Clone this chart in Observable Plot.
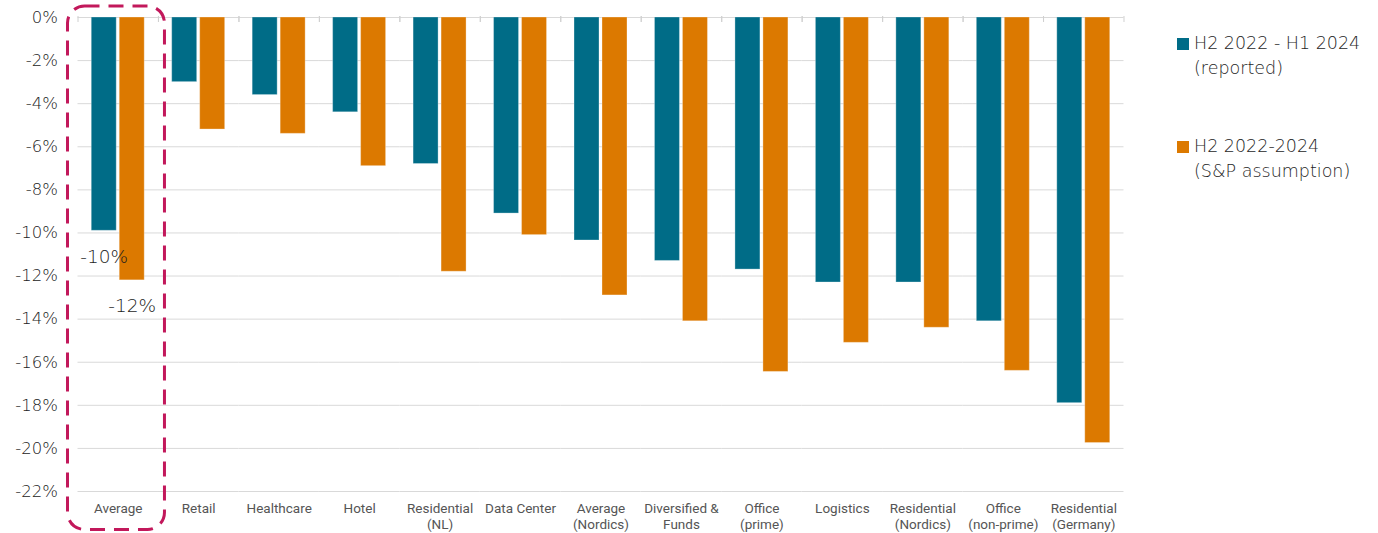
<!DOCTYPE html>
<html>
<head>
<meta charset="utf-8">
<script src="https://cdn.jsdelivr.net/npm/d3@7"></script>
<script src="https://cdn.jsdelivr.net/npm/@observablehq/plot@0.6"></script>
<style>
  html, body { margin: 0; padding: 0; background: #fff; }
  #wrap { position: relative; width: 1378px; height: 533px; }
  #legend { position: absolute; left: 1177px; top: 31px; color: #1e1e1e; font-family: "DejaVu Sans", sans-serif; font-weight: 200; font-size: 17.5px; }
  .item { display: flex; align-items: flex-start; line-height: 25px; }
  .item + .item { margin-top: 53px; }
  .swatch { width: 12px; height: 12px; margin: 7px 5px 0 0; flex: none; }
</style>
</head>
<body>
<div id="wrap">
  <div id="chart"></div>
  <div id="legend"></div>
</div>
<script>
// Property sector value declines, H2 2022 onwards (percent)
const categories = [
  "Average", "Retail", "Healthcare", "Hotel", "Residential\n(NL)", "Data Center",
  "Average\n(Nordics)", "Diversified &\nFunds", "Office\n(prime)", "Logistics",
  "Residential\n(Nordics)", "Office\n(non-prime)", "Residential\n(Germany)"
];
const seriesNames = ["H2 2022 - H1 2024\n(reported)", "H2 2022-2024\n(S&P assumption)"];
const seriesColors = ["#006c87", "#dc7900"];
const reported   = [-9.9, -3.0, -3.6, -4.4, -6.8, -9.1, -10.35, -11.3, -11.7, -12.3, -12.3, -14.1, -17.9];
const assumption = [-12.2, -5.2, -5.4, -6.9, -11.8, -10.1, -12.9, -14.1, -16.45, -15.1, -14.4, -16.4, -19.75];
const yTicks = [0, -2, -4, -6, -8, -10, -12, -14, -16, -18, -20, -22];
const highlighted = "Average";

const rows = categories.flatMap((c, i) => [
  {category: c, series: seriesNames[0], value: reported[i]},
  {category: c, series: seriesNames[1], value: assumption[i]}
]);
const labelled = rows.filter(d => d.category === highlighted);

const numberFont = "'DejaVu Sans', sans-serif";

const chart = Plot.plot({
  width: 1378,
  height: 533,
  marginTop: 17,
  marginBottom: 42,
  marginLeft: 77.5,
  marginRight: 254.5,
  style: {fontFamily: "Roboto, 'Noto Sans', sans-serif", background: "#fff"},
  fx: {domain: categories, padding: 0, round: false, label: null},
  x: {domain: seriesNames, paddingInner: 0.107, paddingOuter: 0.491, round: false, axis: null},
  y: {domain: [-22, 0], label: null},
  color: {domain: seriesNames, range: seriesColors},
  marks: [
    Plot.gridY(yTicks, {stroke: "#d9d9d9", strokeOpacity: 1, strokeWidth: 1}),
    // short separators between categories along the zero line
    Plot.frame({anchor: "left", stroke: "#d0d0d0", strokeOpacity: 1, insetBottom: 470, insetTop: -1}),
    Plot.frame({anchor: "right", stroke: "#d0d0d0", strokeOpacity: 1, insetBottom: 470, insetTop: -1}),
    Plot.barY(rows, {
      fx: "category", x: "series", y: "value", fill: "series",
      stroke: "#fff", strokeOpacity: 0.3, strokeWidth: 1
    }),
    Plot.text(labelled, {
      fx: "category", x: "series", y: "value",
      text: d => `${Math.round(d.value)}%`,
      dy: 26, fontSize: 18.5, fill: "#1e1e1e", fontFamily: numberFont, fontWeight: 200
    }),
    Plot.axisY({
      ticks: yTicks, tickSize: 0, tickPadding: 20,
      tickFormat: d => `${d}%`, fontSize: 16.5, fill: "#222",
      fontFamily: numberFont, fontWeight: 200
    }),
    Plot.axisFx({
      anchor: "bottom", tickSize: 0, tickPadding: 10,
      fontSize: 13.5, fill: "#555", lineHeight: 1.18, label: null
    }),
    // dashed callout around the overall average
    Plot.rect([highlighted], {
      fx: d => d, y1: 0, y2: -22,
      insetLeft: -10, insetRight: -6.5, insetTop: -11, insetBottom: -38.5,
      rx: 17, fill: "none", stroke: "#c2185b", strokeWidth: 3, strokeDasharray: "15 9"
    })
  ]
});
document.getElementById("chart").appendChild(chart);

const legend = document.getElementById("legend");
seriesNames.forEach((name, i) => {
  const item = document.createElement("div");
  item.className = "item";
  const sw = document.createElement("div");
  sw.className = "swatch";
  sw.style.background = seriesColors[i];
  const label = document.createElement("div");
  label.innerHTML = name.split("\n").join("<br>");
  item.append(sw, label);
  legend.append(item);
});
</script>
</body>
</html>
